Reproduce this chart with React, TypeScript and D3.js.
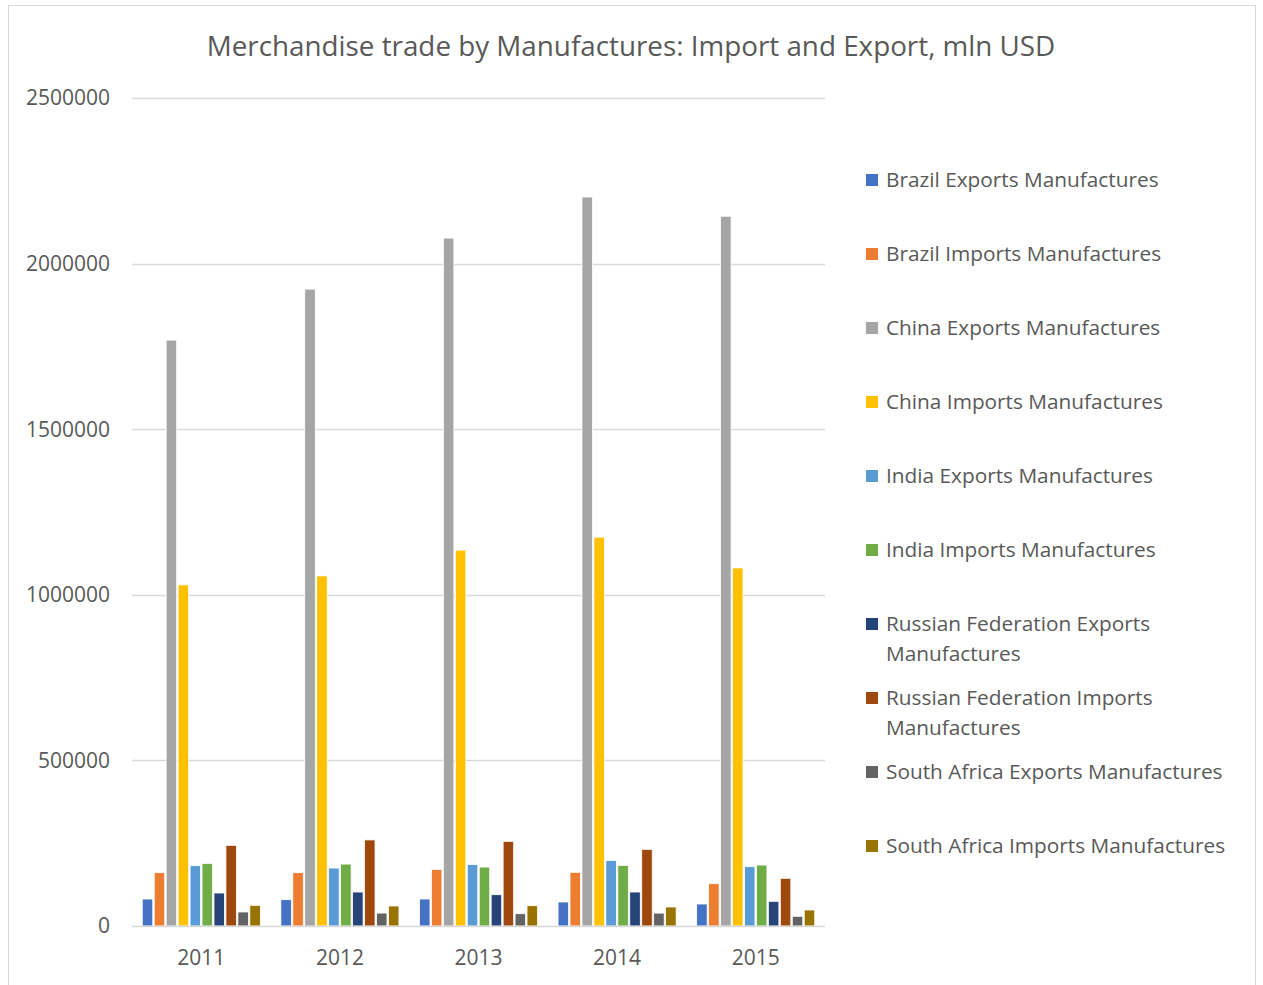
import React, { useEffect, useRef } from 'react';
import * as d3 from 'd3';

const years = ['2011', '2012', '2013', '2014', '2015'];

const seriesNames = [
  'Brazil Exports Manufactures',
  'Brazil Imports Manufactures',
  'China Exports Manufactures',
  'China Imports Manufactures',
  'India Exports Manufactures',
  'India Imports Manufactures',
  'Russian Federation Exports Manufactures',
  'Russian Federation Imports Manufactures',
  'South Africa Exports Manufactures',
  'South Africa Imports Manufactures',
];

// values per series, one per year (mln USD)
const brazilExports = [81500, 79500, 81500, 72500, 66400];
const brazilImports = [161000, 161000, 171000, 162000, 127700];
const chinaExports = [1769000, 1923000, 2077000, 2201000, 2143000];
const chinaImports = [1030000, 1057000, 1135000, 1174000, 1081000];
const indiaExports = [182000, 175000, 186000, 198000, 179000];
const indiaImports = [189000, 187000, 178000, 183000, 184000];
const russiaExports = [99600, 102600, 94500, 102600, 74500];
const russiaImports = [243600, 260000, 255700, 231500, 144000];
const southAfricaExports = [42300, 39000, 37000, 39000, 29300];
const southAfricaImports = [62400, 60400, 61300, 57400, 48300];

const seriesValues = [
  brazilExports, brazilImports, chinaExports, chinaImports, indiaExports,
  indiaImports, russiaExports, russiaImports, southAfricaExports, southAfricaImports,
];

const yTicks = [0, 500000, 1000000, 1500000, 2000000, 2500000];

const colors = [
  '#4472C4', '#ED7D31', '#A5A5A5', '#FFC000', '#5B9BD5',
  '#70AD47', '#264478', '#9E480E', '#636363', '#997300',
];

const FONT = '"Open Sans", sans-serif';

const App: React.FC = () => {
  const svgRef = useRef<SVGSVGElement>(null);

  const width = 1263;
  const height = 985;
  const plot = { left: 132, right: 825, top: 98, bottom: 926 };

  useEffect(() => {
    if (!svgRef.current) return;
    const svg = d3.select(svgRef.current);
    svg.selectAll('*').remove();

    svg.append('rect')
      .attr('width', width).attr('height', height).attr('fill', '#fff');

    // chart border
    svg.append('rect')
      .attr('x', 8.5).attr('y', 5.5)
      .attr('width', 1247).attr('height', 995)
      .attr('fill', 'none').attr('stroke', '#d9d9d9').attr('stroke-width', 1);

    svg.append('text')
      .attr('x', 631).attr('y', 56)
      .attr('text-anchor', 'middle')
      .style('font-family', FONT).style('font-size', '27.8px')
      .style('fill', '#595959')
      .text('Merchandise trade by Manufactures: Import and Export, mln USD');

    const y = d3.scaleLinear().domain([0, 2500000]).range([plot.bottom, plot.top]);
    const x0 = d3.scaleBand().domain(years).range([plot.left, plot.right]).paddingInner(0.148).paddingOuter(0.074);
    const x1 = d3.scaleBand().domain(seriesNames).range([0, x0.bandwidth()]).paddingInner(0.12);

    // gridlines
    svg.append('g').selectAll('line')
      .data(yTicks.filter(d => d > 0))
      .enter().append('line')
      .attr('x1', plot.left).attr('x2', plot.right)
      .attr('y1', d => Math.round(y(d)) + 0.5).attr('y2', d => Math.round(y(d)) + 0.5)
      .attr('stroke', '#d9d9d9').attr('stroke-width', 1.3);

    svg.append('g').selectAll('text')
      .data(yTicks)
      .enter().append('text')
      .attr('x', 110).attr('y', d => y(d))
      .attr('dy', '0.35em')
      .attr('text-anchor', 'end')
      .style('font-family', FONT).style('font-size', '21px')
      .style('fill', '#595959')
      .text(d => String(d));

    // bars
    const groups = svg.append('g').selectAll('g')
      .data(years)
      .enter().append('g')
      .attr('transform', d => `translate(${x0(d)},0)`);

    groups.selectAll('rect')
      .data((_, i) => seriesNames.map((name, s) => ({ name, s, v: seriesValues[s][i] })))
      .enter().append('rect')
      .attr('x', d => x1(d.name)!)
      .attr('y', d => y(d.v))
      .attr('width', x1.bandwidth())
      .attr('height', d => plot.bottom - y(d.v))
      .attr('fill', d => colors[d.s])
      .attr('stroke', '#fff').attr('stroke-width', 0.8);

    // x axis line
    svg.append('line')
      .attr('x1', plot.left).attr('x2', plot.right)
      .attr('y1', plot.bottom + 0.5).attr('y2', plot.bottom + 0.5)
      .attr('stroke', '#d9d9d9').attr('stroke-width', 1.5);

    svg.append('g').selectAll('text')
      .data(years)
      .enter().append('text')
      .attr('x', d => x0(d)! + x0.bandwidth() / 2)
      .attr('y', 965)
      .attr('text-anchor', 'middle')
      .style('font-family', FONT).style('font-size', '21px')
      .style('fill', '#595959')
      .text(d => d);

    // legend
    const legendY = [180, 254, 328, 402, 476, 550, 624, 698, 772, 846];
    const legend = svg.append('g').selectAll('g')
      .data(seriesNames)
      .enter().append('g')
      .attr('transform', (_, i) => `translate(866,${legendY[i]})`);

    legend.append('rect')
      .attr('x', 0).attr('y', -6).attr('width', 12).attr('height', 12)
      .attr('fill', (_, i) => colors[i]);

    legend.each(function (name) {
      const t = d3.select(this).append('text')
        .attr('x', 20).attr('y', 0).attr('dy', '0.35em')
        .style('font-family', FONT).style('font-size', '20.8px')
        .style('fill', '#595959');
      if (name.startsWith('Russian')) {
        const first = name.replace(' Manufactures', '');
        t.append('tspan').attr('x', 20).text(first);
        t.append('tspan').attr('x', 20).attr('dy', 30).text('Manufactures');
      } else {
        t.text(name);
      }
    });
  }, []);

  return (
    <svg
      ref={svgRef}
      width={width}
      height={height}
      style={{ position: 'absolute', left: 0, top: 0, display: 'block' }}
    />
  );
};

export default App;
